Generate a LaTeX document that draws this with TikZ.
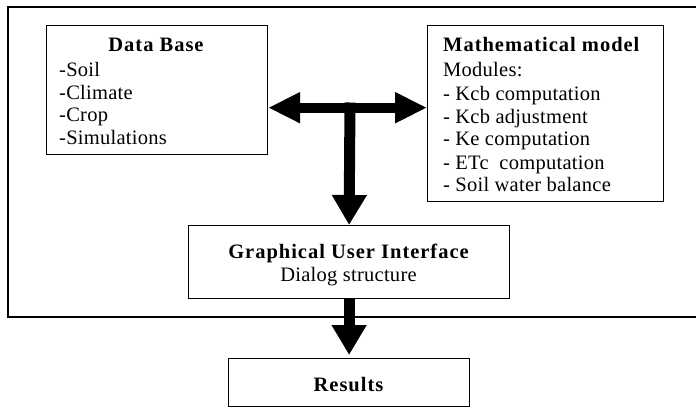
\documentclass[tikz,border=0pt]{standalone}
\usepackage{fontspec}
\setmainfont{Liberation Serif}[LetterSpace=1.3]
\newfontfamily\ttlfont{Liberation Serif}[LetterSpace=4.8]
\usetikzlibrary{arrows.meta}
\begin{document}
\begin{tikzpicture}[x=1pt,y=-1pt,
  box/.style={draw,line width=1.2pt,rectangle,inner sep=0pt,anchor=north west},
  txt/.style={inner sep=0pt,anchor=base west,font=\fontsize{20.5}{23}\selectfont},
  ctxt/.style={inner sep=0pt,anchor=base,font=\fontsize{20.5}{23}\selectfont},
  ttl/.style={inner sep=0pt,anchor=base,font=\fontsize{20.5}{23}\selectfont\ttlfont\bfseries},
  ttlw/.style={inner sep=0pt,anchor=base west,font=\fontsize{20.5}{23}\selectfont\ttlfont\bfseries},
  bigarr/.style={line width=11pt,-{Triangle[length=30pt,width=33pt]}},
  bigarrd/.style={line width=10pt,{Triangle[length=32pt,width=29pt]}-{Triangle[length=32pt,width=29pt]}}
]
\useasboundingbox (0,0) rectangle (696,408);
% outer frame (open on the right)
\draw[line width=1.2pt] (700,7) -- (8,7) -- (8,317) -- (700,317);

% boxes
\node[box,minimum width=221pt,minimum height=129pt] (db) at (46,25) {};
\node[box,minimum width=236pt,minimum height=176pt] (mm) at (427,25) {};
\node[box,minimum width=321pt,minimum height=73pt] (gui) at (188,225) {};
\node[box,minimum width=241pt,minimum height=48pt] (res) at (228,358) {};

% Data Base text
\node[ttl] (dbt) at (156,51.7) {Data Base};
\node[txt] (db1) at (59,76) {-Soil};
\node[txt] (db2) at (59,99) {-Climate};
\node[txt] (db3) at (59,121.7) {-Crop};
\node[txt] (db4) at (59,144.3) {-Simulations};

% Mathematical model text
\node[ttlw] (mmt) at (443,51.7) {Mathematical model};
\node[txt] (mm1) at (443,76.7) {Modules:};
\node[txt] (mm2) at (443,100) {- Kcb computation};
\node[txt] (mm3) at (443,123) {- Kcb adjustment};
\node[txt] (mm4) at (443,145.7) {- Ke computation};
\node[txt] (mm5) at (443,169) {- ETc\ \ computation};
\node[txt] (mm6) at (443,191.7) {- Soil water balance};

% GUI text
\node[ttl] (guit) at (348.5,258.3) {Graphical User Interface};
\node[ctxt] (gui1) at (348.5,281.7) {Dialog structure};

% Results text
\node[ttl] (rest) at (348.5,391) {Results};

% arrows
\coordinate (j) at (350,107.7);
\coordinate (jt) at (350,102.5);
\draw[bigarrd] (db.east |- j) -- (mm.west |- j);
\draw[bigarr] (jt) -- (gui.north);
\draw[bigarr] (gui.south) -- ([yshift=3pt]res.north);
\end{tikzpicture}
\end{document}
